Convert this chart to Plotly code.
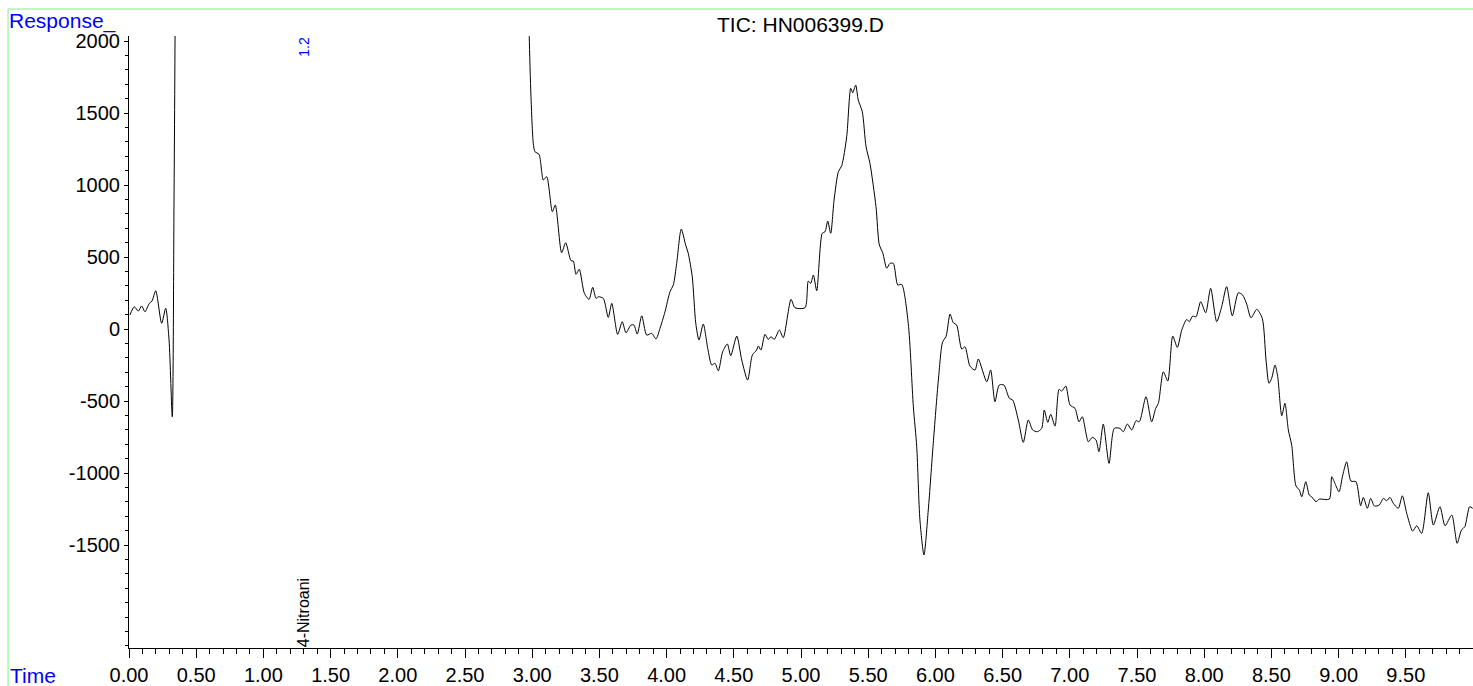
import plotly.graph_objects as go

# Retention time (min) and TIC response
time_a = [0.007, 0.039, 0.069, 0.094, 0.119, 0.151, 0.171, 0.199, 0.243, 0.273,
          0.298, 0.322, 0.335, 0.345, 0.360]
resp_a = [97, 155, 125, 160, 120, 178, 194, 266, 40, 144,
          -76, -609, 896, 2400, 5000]

time_b = [2.950, 2.975, 2.978, 2.991, 3.008, 3.021, 3.051, 3.083, 3.108, 3.150, 3.172,
          3.219, 3.249, 3.289, 3.306, 3.326, 3.350, 3.388, 3.423, 3.450, 3.475,
          3.492, 3.529, 3.566, 3.592, 3.636, 3.670, 3.698, 3.735, 3.757, 3.782,
          3.815, 3.852, 3.889, 3.921, 3.951, 3.988, 4.025, 4.050, 4.075, 4.109,
          4.142, 4.161, 4.191, 4.217, 4.241, 4.273, 4.306, 4.336, 4.360, 4.385,
          4.417, 4.452, 4.477, 4.522, 4.559, 4.603, 4.638, 4.670, 4.682, 4.702,
          4.732, 4.757, 4.777, 4.801, 4.839, 4.868, 4.926, 4.955, 5.030, 5.054,
          5.072, 5.092, 5.117, 5.158, 5.179, 5.199, 5.221, 5.246, 5.278, 5.303,
          5.340, 5.370, 5.385, 5.407, 5.426, 5.456, 5.484, 5.513, 5.558, 5.583,
          5.608, 5.638, 5.662, 5.687, 5.720, 5.749, 5.798, 5.836, 5.861, 5.885,
          5.915, 5.947, 5.984, 6.022, 6.054, 6.079, 6.109, 6.133, 6.158, 6.196,
          6.220, 6.257, 6.295, 6.319, 6.382, 6.411, 6.443, 6.475, 6.510, 6.550,
          6.575, 6.617, 6.654, 6.691, 6.724, 6.758, 6.791, 6.810, 6.836, 6.858,
          6.890, 6.920, 6.940, 6.970, 7.002, 7.039, 7.068, 7.093, 7.138, 7.167,
          7.195, 7.217, 7.249, 7.292, 7.331, 7.374, 7.398, 7.428, 7.461, 7.493,
          7.517, 7.567, 7.609, 7.639, 7.659, 7.696, 7.729, 7.766, 7.800, 7.833,
          7.870, 7.889, 7.914, 7.939, 7.974, 8.011, 8.048, 8.093, 8.130, 8.167,
          8.209, 8.254, 8.286, 8.316, 8.348, 8.391, 8.432, 8.460, 8.482, 8.502,
          8.527, 8.547, 8.577, 8.601, 8.626, 8.651, 8.683, 8.708, 8.726, 8.756,
          8.782, 8.800, 8.832, 8.857, 8.931, 8.949, 8.973, 9.003, 9.031, 9.060,
          9.092, 9.129, 9.164, 9.184, 9.214, 9.239, 9.266, 9.303, 9.333, 9.358,
          9.382, 9.407, 9.444, 9.474, 9.507, 9.551, 9.581, 9.618, 9.667, 9.705,
          9.754, 9.792, 9.842, 9.882, 9.914, 9.939, 9.975, 9.998]
resp_b = [5000, 2300, 2030, 1613, 1290, 1231, 1213, 1035, 1058, 815, 861,
          530, 599, 474, 472, 380, 415, 248, 206, 290, 213,
          224, 213, 81, 178, -37, 51, -26, 28, 28, -35,
          92, -42, -30, -69, 5, 120, 259, 306, 456, 694,
          583, 526, 363, 40, -76, 35, -134, -250, -238, -290,
          -158, -104, -185, -49, -215, -354, -181, -146, -118, -146,
          -37, -72, -53, -72, -7, -60, 206, 148, 148, 333,
          317, 375, 266, 665, 676, 750, 665, 896, 1092, 1134,
          1335, 1671, 1641, 1694, 1590, 1509, 1266, 1151, 849, 583,
          530, 422, 456, 456, 306, 310, 40, -540, -817, -1326,
          -1569, -1257, -794, -354, -88, -53, 104, 44, 28, -139,
          -123, -257, -285, -208, -366, -285, -505, -389, -389, -481,
          -493, -632, -787, -632, -701, -713, -690, -562, -648, -592,
          -674, -419, -431, -396, -528, -551, -644, -609, -783, -752,
          -771, -852, -660, -933, -690, -690, -713, -660, -701, -637,
          -644, -470, -644, -551, -516, -297, -361, -49, -127, -7,
          67, 51, 90, 85, 190, 113, 283, 51, 155, 294,
          92, 252, 236, 174, 78, 137, 74, -215, -377, -342,
          -250, -331, -602, -516, -701, -806, -1090, -1118, -1165, -1060,
          -1153, -1165, -1199, -1181, -1181, -1026, -1072, -1130, -1014, -922,
          -1056, -1060, -1227, -1169, -1245, -1176, -1229, -1222, -1176, -1192,
          -1169, -1210, -1245, -1158, -1280, -1403, -1366, -1419, -1137, -1361,
          -1234, -1366, -1292, -1488, -1396, -1373, -1234, -1245]

time_all = time_a + time_b
resp_all = resp_a + resp_b

x_tickvals = [i * 0.5 for i in range(20)]
x_ticktext = ["%.2f" % v for v in x_tickvals]
y_tickvals = [-1500, -1000, -500, 0, 500, 1000, 1500, 2000]
y_ticktext = [str(v) for v in y_tickvals]

title_text = "TIC: HN006399.D"
peak_rt = 1.30
peak_name = "4-Nitroani"
peak_label = "1.2"

FONT = "Arial, Liberation Sans, Helvetica, sans-serif"
BLUE = "#0000ff"
GREEN = "rgb(128,240,128)"

fig = go.Figure()
fig.add_trace(go.Scatter(
    x=time_all, y=resp_all, mode="lines",
    line=dict(color="black", width=1, shape="spline", smoothing=0.7),
    hoverinfo="x+y", showlegend=False,
))

fig.update_layout(
    width=1473, height=686,
    margin=dict(l=129, r=0, t=36, b=38),
    paper_bgcolor="white", plot_bgcolor="white",
    font=dict(family=FONT, size=20, color="black"),
    showlegend=False,
)

fig.update_xaxes(
    range=[0, 10], showgrid=False, zeroline=False,
    showline=True, linecolor="black", linewidth=1,
    tickmode="array", tickvals=x_tickvals, ticktext=x_ticktext,
    ticks="outside", ticklen=9, tickwidth=1, tickcolor="black",
    minor=dict(tickmode="linear", tick0=0, dtick=0.1, ticks="outside",
               ticklen=5, tickwidth=1, tickcolor="black", showgrid=False),
    tickfont=dict(family=FONT, size=20, color="black"),
)
fig.update_yaxes(
    range=[-2215, 2035], showgrid=False, zeroline=False,
    showline=True, linecolor="black", linewidth=1,
    tickmode="array", tickvals=y_tickvals, ticktext=y_ticktext,
    ticks="outside", ticklen=4, tickwidth=1, tickcolor="black",
    minor=dict(tickmode="linear", tick0=0, dtick=100, ticks="outside",
               ticklen=3, tickwidth=1, tickcolor="black", showgrid=False),
    tickfont=dict(family=FONT, size=20, color="black"),
)

# Green frame (left and top edges)
fig.add_shape(type="line", xref="paper", yref="paper",
              x0=-0.0900, x1=-0.0900, y0=1.0441, y1=-0.07,
              line=dict(color=GREEN, width=1))
fig.add_shape(type="line", xref="paper", yref="paper",
              x0=-0.0900, x1=1.01, y0=1.0441, y1=1.0441,
              line=dict(color=GREEN, width=1))

fig.add_annotation(text="Response_", xref="paper", yref="paper",
                   x=-0.0902, y=1.0250, xanchor="left", yanchor="middle",
                   showarrow=False, borderpad=0,
                   font=dict(family=FONT, size=21, color=BLUE))
fig.add_annotation(text="Time", xref="paper", yref="paper",
                   x=-0.0902, y=-0.0445, xanchor="left", yanchor="middle",
                   showarrow=False, font=dict(family=FONT, size=21, color=BLUE))
fig.add_annotation(text=title_text, xref="paper", yref="paper",
                   x=0.4993, y=1.0196, xanchor="center", yanchor="middle",
                   showarrow=False, font=dict(family=FONT, size=21, color="black"))
fig.add_annotation(text=peak_name, xref="x", yref="paper",
                   x=peak_rt, y=0.0, xanchor="center", yanchor="bottom",
                   textangle=-90, showarrow=False, borderpad=0,
                   font=dict(family=FONT, size=16, color="black"))
fig.add_annotation(text=peak_label, xref="x", yref="paper",
                   x=peak_rt, y=1.0, xanchor="center", yanchor="top",
                   textangle=-90, showarrow=False, borderpad=0,
                   font=dict(family=FONT, size=14, color=BLUE))

fig.write_html(
    "out.html",
    config={"displayModeBar": False},
    post_script="document.body.style.margin='0';document.body.style.overflow='hidden';",
)
